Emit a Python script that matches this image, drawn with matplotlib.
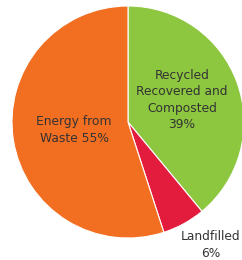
import matplotlib
matplotlib.use("Agg")
import matplotlib.pyplot as plt

categories = ["Recycled\nRecovered and\nComposted", "Landfilled", "Energy from\nWaste"]
values = [39, 6, 55]
colors = ["#8DC63F", "#E31B3C", "#F26F22"]
labels = ["Recycled\nRecovered and\nComposted\n39%", "Landfilled\n6%", "Energy from\nWaste 55%"]

W, H = 242, 260
fig = plt.figure(figsize=(W / 100, H / 100), dpi=100)
cx, cy, r = 128, 122, 116
ax = fig.add_axes([(cx - r) / W, (H - cy - r) / H, 2 * r / W, 2 * r / H])

wedges, _ = ax.pie(values, colors=colors, startangle=90, counterclock=False,
                   radius=1, wedgeprops=dict(edgecolor="white", linewidth=0.8))
ax.set_xlim(-1, 1)
ax.set_ylim(-1, 1)
ax.set_aspect("equal")
ax.axis("off")
for w in wedges:
    w.set_clip_on(False)

tc = "#333333"
fs = 8.8
ls = 1.32
def to_ax(px, py):
    return ((px - cx) / r, (cy - py) / r)

x, y = to_ax(182, 100)
ax.text(x, y, labels[0], ha="center", va="center", fontsize=fs, color=tc, linespacing=ls)
x, y = to_ax(74, 130)
ax.text(x, y, labels[2], ha="center", va="center", fontsize=fs, color=tc, linespacing=ls)
x, y = to_ax(211, 245)
ax.text(x, y, labels[1], ha="center", va="center", fontsize=fs, color=tc, linespacing=ls, clip_on=False)

fig.savefig("out.png", dpi=100, facecolor="white")
